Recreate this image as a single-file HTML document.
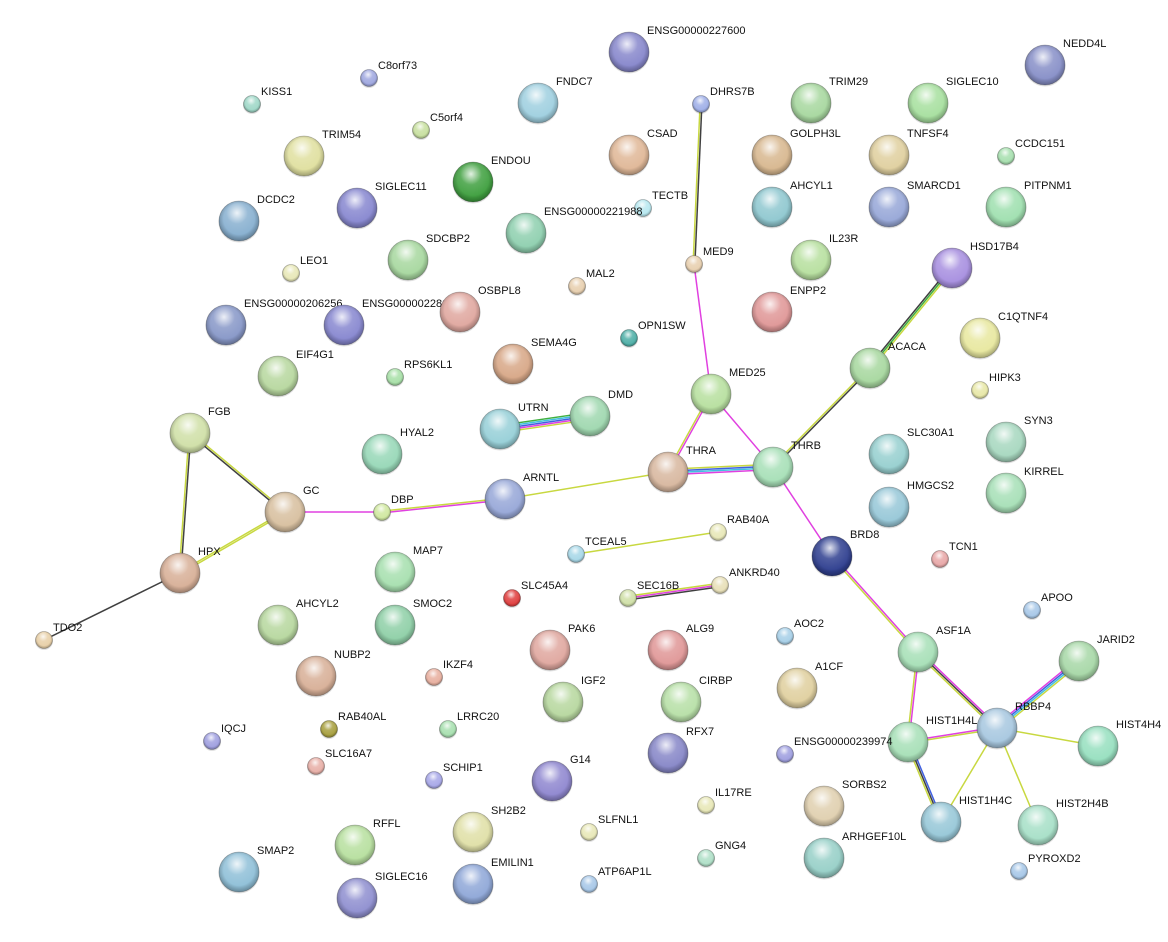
<!DOCTYPE html>
<html><head><meta charset="utf-8"><style>
html,body{margin:0;padding:0;background:#fff;}
svg{display:block;}
text{font-family:"Liberation Sans",sans-serif;font-size:11px;fill:#111;}
</style></head><body>
<svg id="s" width="1168" height="942" xmlns="http://www.w3.org/2000/svg">
<defs>
<radialGradient id="hl" cx="0.45" cy="0.3" r="0.6">
<stop offset="0" stop-color="#fff" stop-opacity="0.85"/>
<stop offset="0.45" stop-color="#fff" stop-opacity="0.15"/>
<stop offset="1" stop-color="#fff" stop-opacity="0"/>
</radialGradient>
<radialGradient id="sh" cx="0.5" cy="0.45" r="0.55">
<stop offset="0.7" stop-color="#000" stop-opacity="0"/>
<stop offset="1" stop-color="#000" stop-opacity="0.3"/>
</radialGradient>
</defs>
<g id="e"></g><g id="n"></g>
</svg>
<script>
var N={
"ENSG00000227600":[629,52,1,"#8888cc"],"NEDD4L":[1045,65,1,"#8890c8"],"C8orf73":[369,78,0,"#a0a8e0"],
"KISS1":[252,104,0,"#a0d8c8"],"FNDC7":[538,103,1,"#a0d0e0"],"DHRS7B":[701,104,0,"#a0b0e8"],
"TRIM29":[811,103,1,"#a8d8a0"],"SIGLEC10":[928,103,1,"#a8e0a0"],"C5orf4":[421,130,0,"#c8e0a0"],
"TRIM54":[304,156,1,"#e0e0a0"],"CSAD":[629,155,1,"#e0b898"],"GOLPH3L":[772,155,1,"#d8b890"],
"TNFSF4":[889,155,1,"#e0d0a0"],"CCDC151":[1006,156,0,"#a8e0b0"],"ENDOU":[473,182,1,"#40a040"],
"SIGLEC11":[357,208,1,"#8888d0"],"AHCYL1":[772,207,1,"#90c8d0"],"SMARCD1":[889,207,1,"#98a8d8"],
"PITPNM1":[1006,207,1,"#a0e0b0"],"TECTB":[643,208,0,"#b8e8f0"],"DCDC2":[239,221,1,"#88b0d0"],
"ENSG00000221988":[526,233,1,"#90d0b0"],"SDCBP2":[408,260,1,"#a8d8a0"],"IL23R":[811,260,1,"#b8e0a0"],
"HSD17B4":[952,268,1,"#a890e0"],"MED9":[694,264,0,"#e8d0b0"],"LEO1":[291,273,0,"#e8e8b8"],
"MAL2":[577,286,0,"#e8d0b0"],"ENSG00000206256":[226,325,1,"#8898c8"],"ENSG00000228116":[344,325,1,"#8888d0"],
"OSBPL8":[460,312,1,"#e0a8a0"],"ENPP2":[772,312,1,"#e09898"],"C1QTNF4":[980,338,1,"#e8e8a0"],
"OPN1SW":[629,338,0,"#50b0a8"],"SEMA4G":[513,364,1,"#d8a888"],"EIF4G1":[278,376,1,"#b8d8a0"],
"RPS6KL1":[395,377,0,"#a8e0a8"],"ACACA":[870,368,1,"#a8d8a0"],"HIPK3":[980,390,0,"#e8e8a8"],
"MED25":[711,394,1,"#b8e0a0"],"UTRN":[500,429,1,"#98d0d8"],"DMD":[590,416,1,"#a0d8b0"],
"FGB":[190,433,1,"#d0e0a8"],"HYAL2":[382,454,1,"#98d8b8"],"SLC30A1":[889,454,1,"#98d0d0"],
"SYN3":[1006,442,1,"#a8d8c0"],"THRA":[668,472,1,"#d8b8a0"],"THRB":[773,467,1,"#a8e0b8"],
"KIRREL":[1006,493,1,"#a8e0b8"],"ARNTL":[505,499,1,"#98a8d8"],"HMGCS2":[889,507,1,"#98c8d8"],
"GC":[285,512,1,"#d8c0a0"],"DBP":[382,512,0,"#d0e8a0"],"RAB40A":[718,532,0,"#e8e8b8"],
"BRD8":[832,556,1,"#304090"],"TCEAL5":[576,554,0,"#a8d8e8"],"TCN1":[940,559,0,"#e8a8a8"],
"HPX":[180,573,1,"#d8b098"],"MAP7":[395,572,1,"#a8e0b0"],"SLC45A4":[512,598,0,"#e04040"],
"SEC16B":[628,598,0,"#d0e0a8"],"ANKRD40":[720,585,0,"#e8e0b8"],"APOO":[1032,610,0,"#a8c8e8"],
"AHCYL2":[278,625,1,"#b8d8a0"],"SMOC2":[395,625,1,"#90d0a8"],"TDO2":[44,640,0,"#e8d0a8"],
"PAK6":[550,650,1,"#e0a8a0"],"ALG9":[668,650,1,"#e09898"],"ASF1A":[918,652,1,"#a8e0b8"],
"AOC2":[785,636,0,"#a8d0e8"],"JARID2":[1079,661,1,"#a8d8a8"],"NUBP2":[316,676,1,"#d8b098"],
"IKZF4":[434,677,0,"#e8b0a0"],"A1CF":[797,688,1,"#e0d0a0"],"IGF2":[563,702,1,"#b8d8a0"],
"CIRBP":[681,702,1,"#b8e0a8"],"RBBP4":[997,728,1,"#a8c8e0"],"HIST4H4":[1098,746,1,"#98e0c0"],
"HIST1H4L":[908,742,1,"#a8e0b8"],"LRRC20":[448,729,0,"#a8e0b0"],"RAB40AL":[329,729,0,"#a8a040"],
"IQCJ":[212,741,0,"#a0a0e0"],"RFX7":[668,753,1,"#8888c8"],"ENSG00000239974":[785,754,0,"#a0a0e0"],
"SCHIP1":[434,780,0,"#a8a8e8"],"G14":[552,781,1,"#9088d0"],"SLC16A7":[316,766,0,"#e8b0a8"],
"IL17RE":[706,805,0,"#e8e8b8"],"SORBS2":[824,806,1,"#e0d0b0"],"HIST1H4C":[941,822,1,"#98c8d8"],
"HIST2H4B":[1038,825,1,"#a8e0c8"],"SH2B2":[473,832,1,"#e0e0a8"],"RFFL":[355,845,1,"#b8e0a0"],
"SLFNL1":[589,832,0,"#e8e8b8"],"GNG4":[706,858,0,"#b0e0c8"],"ARHGEF10L":[824,858,1,"#98d0c8"],
"PYROXD2":[1019,871,0,"#a8c8e8"],"SMAP2":[239,872,1,"#90c0d8"],"EMILIN1":[473,884,1,"#90a8d8"],
"ATP6AP1L":[589,884,0,"#a8c8e8"],"SIGLEC16":[357,898,1,"#9090d0"]};
var Y="#c8d840",M="#e040e0",K="#404040",B="#4060e0",C="#40c0e0",G="#40b040";
var E=[["DHRS7B","MED9",[K,Y]],["MED9","MED25",[M]],["MED25","THRA",[M,Y]],["MED25","THRB",[M]],
["THRA","THRB",[Y,B,C,M]],["ACACA","HSD17B4",[K,G,Y]],["ACACA","THRB",[K,Y]],
["UTRN","DMD",[G,C,B,M,Y]],["THRA","ARNTL",[Y]],["ARNTL","DBP",[M,Y]],["DBP","GC",[M]],
["GC","FGB",[K,Y]],["FGB","HPX",[K,Y]],["GC","HPX",[Y,Y]],["HPX","TDO2",[K]],
["TCEAL5","RAB40A",[Y]],["SEC16B","ANKRD40",[Y,M,K]],["THRB","BRD8",[M]],["BRD8","ASF1A",[M,Y]],
["ASF1A","RBBP4",[M,K,Y]],["ASF1A","HIST1H4L",[M,Y]],["HIST1H4L","HIST1H4C",[B,K,Y]],
["RBBP4","JARID2",[M,B,C,Y]],["RBBP4","HIST4H4",[Y]],["RBBP4","HIST2H4B",[Y]],
["RBBP4","HIST1H4C",[Y]],["HIST1H4L","RBBP4",[M,Y]]];
var ns="http://www.w3.org/2000/svg",eg=document.getElementById("e"),ng=document.getElementById("n");
function el(t,a,p){var x=document.createElementNS(ns,t);for(var k in a)x.setAttribute(k,a[k]);p.appendChild(x);return x;}
E.forEach(function(e){var a=N[e[0]],b=N[e[1]],dx=b[0]-a[0],dy=b[1]-a[1],l=Math.hypot(dx,dy),px=-dy/l,py=dx/l,n=e[2].length;
e[2].forEach(function(c,i){var o=(i-(n-1)/2)*1.8;el("line",{x1:a[0]+px*o,y1:a[1]+py*o,x2:b[0]+px*o,y2:b[1]+py*o,stroke:c,"stroke-width":1.5},eg);});});
for(var k in N){var d=N[k],r=d[2]?20:8.5;
el("circle",{cx:d[0],cy:d[1]+1,r:r+0.5,fill:"#000","fill-opacity":0.12},ng);
el("circle",{cx:d[0],cy:d[1],r:r,fill:d[3]},ng);
el("circle",{cx:d[0],cy:d[1],r:r,fill:"url(#sh)"},ng);
el("circle",{cx:d[0],cy:d[1],r:r,fill:"url(#hl)"},ng);
el("circle",{cx:d[0],cy:d[1],r:r,fill:"none",stroke:"#000","stroke-opacity":0.25,"stroke-width":0.8},ng);
var t=el("text",{x:d[0]+(d[2]?18:9),y:d[1]-(d[2]?18:9)},ng);t.textContent=k;}
</script>
</body></html>
